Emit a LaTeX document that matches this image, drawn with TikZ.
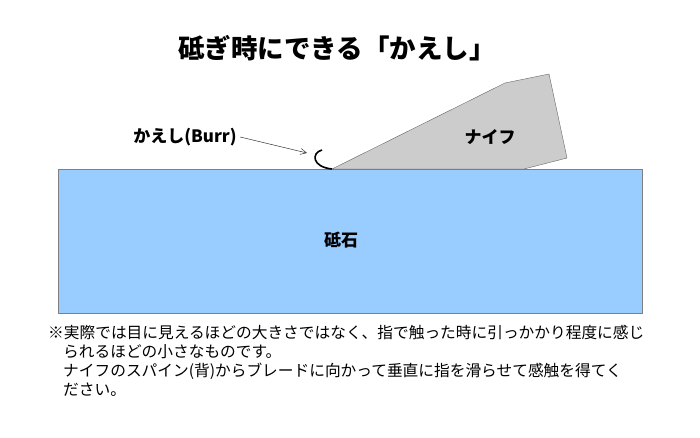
\documentclass[tikz,border=0pt]{standalone}
\usepackage{fontspec}
\setmainfont{Noto Sans CJK JP}
\usetikzlibrary{arrows.meta}

\definecolor{stoneblue}{HTML}{99CCFF}
\definecolor{knifegray}{HTML}{CCCCCC}

\begin{document}
\begin{tikzpicture}[x=1pt,y=-1pt,
  boldtext/.style={font=\bfseries\fontsize{17}{20}\selectfont},
  notetext/.style={font=\fontsize{15.7}{19}\selectfont,anchor=west,inner sep=0}]

\useasboundingbox (0,0) rectangle (700,438);

\node[font=\bfseries\fontsize{26.5}{30}\selectfont] (title) at (337,48) {砥ぎ時にできる「かえし」};

% whetstone and knife
\draw[black!50,fill=stoneblue] (58,169) rectangle (642,313);
\draw[black!60,fill=knifegray] (332,169) -- (505,83) -- (549,74) -- (567,158) -- (524,169) -- cycle;

% burr
\draw[line width=1.6pt] (322,150) .. controls (311,153) and (312,167) .. (332,169);
\coordinate (burr) at (307,153);

\node[boldtext] (burrlabel) at (185,137) {かえし(Burr)};
\node[boldtext] (knife) at (490,137) {ナイフ};
\node[boldtext] (stone) at (341,240) {砥石};

\draw[black!80,line width=0.5pt,-{Straight Barb[length=6pt,width=6pt]}] (burrlabel.east) -- (burr);

\node[notetext] (note1) at (48,333) {※実際では目に見えるほどの大きさではなく、指で触った時に引っかかり程度に感じ};
\node[notetext] (note2) at (63,352) {られるほどの小さなものです。};
\node[notetext] (note3) at (63,371) {ナイフのスパイン(背)からブレードに向かって垂直に指を滑らせて感触を得てく};
\node[notetext] (note4) at (63,390) {ださい。};

\end{tikzpicture}
\end{document}
